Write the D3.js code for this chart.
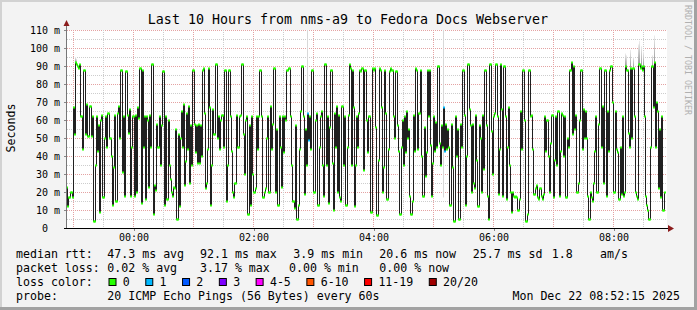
<!DOCTYPE html>
<html>
<head>
<meta charset="utf-8">
<script src="https://cdn.jsdelivr.net/npm/d3@7/dist/d3.min.js"></script>
<style>
body { margin: 0; background: #f3f3f3; }
text { font-family: "DejaVu Sans Mono", monospace; fill: #000; }
</style>
</head>
<body>
<div class="graph"></div>
<script>
// smokeping style latency graph, one median value (ms) per minute
var width = 697;
var height = 310;

var rttA = [23,12,17,17,20,20,17, 67,52,92,91,90,89,91, 62,62,44,88,88,52, 69,51,51,68,68,51,
  62,4,4,35,62,43,57,9,60, 63,17,17,50,62, 45,64,64,50,50,40, 13,34,63,15,15,64, 68,50,88,88,31,62,18,
  87,87,63,53,66, 18,45,62,62,18,63,20, 67,61,89,89,14,88,45,62,16,62, 60,23,63,45,91,91,8,24,21,
  58,45,45,62,35,57,87,87,13, 62,16,16,60,35,27,20,18,23,22, 55,5,5,52,12,50,65,45,69,24,37,64,44,68,25,
  57,35,88,88,58, 42,57,36,58,36,57,40, 88,89,64,22,25,44,89,67,13,35,66,52,52];
var rttB = [91,91,50, 62,44,60,63,63,45, 88,88,15,35,88, 88,62,43, 20,17,25,25, 63,45,45,62,63,
  91,91,52,30,60, 62,8,8,57,13, 62,30,20,20,22, 62,44,62,88,88, 62,17,17,20,22, 50,62,20,20,
  68,44,58,89,89,20, 55,13,13,62,45,23, 62,42,62,60, 88,88,89,89, 62,35,15,15,11,57, 5,5,13,44,
  65,90,90,62,19, 55,35,64,49,62,44, 88,88,20,20, 60,64,13,13,45,62, 65,35,18,91,91,35,
  62,14,56,88,88,36, 10,64,45,68,20,63, 17,15,68,68,35, 62,13,13,45,63, 91,89,35,88,67,12,
  35,62,45,64, 88,87,89,89,32,88];
var rttC = [88,60,42,62,62, 9,9, 89,88,89,56, 7,7,38, 89,88,67,20, 34,88,64,16,16,44, 87,89,88,88,
  62,50,87,87, 57,43,8,8, 45,60,35,62,42, 65,50,55, 18,8,8,15, 63,43, 89,88,44,64,64,
  88,40,18,18,56,29,42, 88,62,88,46,18,36, 62,43,59,45,90,90,47, 35,57,45,67,43,58,44, 55,45,13,13,
  58,34,4,4, 62,40,55,5,5,58, 45,88,88,63,13,40, 91,91,66,57,20,58,25,22, 63,38,12,12,57,50,20,
  63,33,88,88,57,18,5, 91,91,54,30,62,64, 91,91,62,19,44,91,66, 18,90,90,62,16,45,67,35,
  20,9,20,18,17];
var rttD = [18,17,10,10,16, 65,44,88,88,60, 4,4,8, 88,88,62, 63,44,19,19,22,24, 17,16,22,22,18,16,19,
  62,43,60,60,40, 20,47,63,63,17,38, 62,35,65,65,18,43,64, 63,40,62,17,17,50,45,
  88,88,92,52,90,55, 63,20,20,25,60, 88,88,44, 66,50,65,50, 18,5,5,20,17,15, 25,43,62,20,20,58,
  89,89,45,68,25, 88,88,18, 65,43,88,90,90, 70,20,20,65,44,42, 16,16,45,19,62,18,20,
  90,88,88,53,45,89,50,89,89,62, 20,18,16,91,91,89,90,88, 90,62,18,13,10,5,5, 45,90,90,67,92,45,70,65,
  22,55,17,62,10,10,20];

// minutes (from graph start) with 1 of 20 pings lost
var lossOne = [241, 242, 377, 378];
// smoke (spread of the 20 pings) where it shows above the median
var smokeAt = [9, 10, 241, 377, 559, 560, 564, 567, 572, 573, 575, 577, 586, 588];
var smokeLo = [92, 91, 64, 17, 90, 88, 89, 89, 91, 91, 90, 90, 90, 92];
var smokeHi = [95, 94, 112, 112, 97, 96, 99, 95, 102, 104, 101, 98, 96, 107];

var yTicks = [0, 10, 20, 30, 40, 50, 60, 70, 80, 90, 100, 110];
var xLabels = ["00:00", "02:00", "04:00", "06:00", "08:00"];
var lossNames = ["0", "1", "2", "3", "4-5", "6-10", "11-19", "20/20"];
var lossColors = ["#26ff00", "#00b8ff", "#0059ff", "#7e00ff", "#ff00ff", "#ff5500", "#ff0000", "#a00000"];
var rttStats = ["47.3 ms avg", "92.1 ms max", "3.9 ms min", "20.6 ms now", "25.7 ms sd", "1.8", "am/s"];
var lossStats = ["0.02 % avg", "3.17 % max", "0.00 % min", "0.00 % now"];
var probeText = "20 ICMP Echo Pings (56 Bytes) every 60s";
var stampText = "Mon Dec 22 08:52:15 2025";

var rtt = rttA.concat(rttB, rttC, rttD);

var endTime = new Date(Date.UTC(2025, 11, 22, 8, 53, 30));
var startTime = new Date(endTime.getTime() - 10 * 3600 * 1000);
var minute = function(i){ return new Date(startTime.getTime() + i * 60000); };

var x = d3.scaleUtc().domain([startTime, endTime]).range([67, 667]);
var y = d3.scaleLinear().domain([0, 110]).range([228, 30]);

var svg = d3.select('.graph').append("svg").attr("width", width).attr("height", height);

// frame
svg.append("rect").attr("width", width).attr("height", height).style("fill", "#f3f3f3");
svg.append("rect").attr("x", 0).attr("y", 0).attr("width", width).attr("height", 2).style("fill", "#d2d2d2");
svg.append("rect").attr("x", 0).attr("y", 0).attr("width", 2).attr("height", height).style("fill", "#d2d2d2");
svg.append("rect").attr("x", 0).attr("y", height - 3).attr("width", width).attr("height", 3).style("fill", "#a2a2a2");
svg.append("rect").attr("x", width - 3).attr("y", 0).attr("width", 3).attr("height", height).style("fill", "#a2a2a2");

// canvas
svg.append("rect").attr("x", 67).attr("y", 30).attr("width", 600).attr("height", 198).style("fill", "#fff");

// grid
var grid = svg.append("g").attr("shape-rendering", "crispEdges").style("stroke-dasharray", "1,1");
d3.range(5, 110, 5).forEach(function(v){
  var major = v % 10 === 0;
  grid.append("line").attr("x1", 67).attr("x2", 667).attr("y1", Math.round(y(v)) + 0.5).attr("y2", Math.round(y(v)) + 0.5)
    .style("stroke", major ? "#e4a2a2" : "#cdcdcd");
});
grid.append("line").attr("x1", 67).attr("x2", 667).attr("y1", 30.5).attr("y2", 30.5).style("stroke", "#e4a2a2");
x.ticks(d3.utcMinute.every(30)).forEach(function(t){
  var major = t.getUTCMinutes() === 0;
  grid.append("line").attr("x1", Math.floor(x(t)) + 0.5).attr("x2", Math.floor(x(t)) + 0.5).attr("y1", 30).attr("y2", 228)
    .style("stroke", major ? "#e4a2a2" : "#cdcdcd");
});

// smoke
var defs = svg.append("defs");
var grad = defs.append("linearGradient").attr("id", "smoke").attr("x1", 0).attr("y1", 1).attr("x2", 0).attr("y2", 0);
grad.append("stop").attr("offset", "0%").style("stop-color", "#999");
grad.append("stop").attr("offset", "100%").style("stop-color", "#eee");
smokeAt.forEach(function(i, k){
  var top = y(Math.min(smokeHi[k], 110));
  svg.append("rect").attr("x", Math.round(x(minute(i))) - 1).attr("width", 1)
    .attr("y", top).attr("height", y(smokeLo[k]) - top)
    .style("fill", smokeHi[k] >= 110 ? "#d8d8d8" : "url(#smoke)");
});

// median line
var line = d3.line().curve(d3.curveStep)
  .x(function(d, i){ return x(minute(i)); }).y(function(d){ return Math.round(y(d)) + 0.5; });
svg.append("path").datum(rtt).attr("d", line).attr("shape-rendering", "crispEdges")
  .style("fill", "none").style("stroke", "#202020").style("stroke-width", 1);

// loss colour marks
svg.append("g").selectAll("rect").data(rtt).enter().append("rect")
  .attr("x", function(d, i){ return Math.round(x(minute(i))) - 1; })
  .attr("y", function(d){ return Math.round(y(d)) - 0.5; })
  .attr("width", 2).attr("height", 2)
  .style("fill", function(d, i){ return lossOne.indexOf(i) >= 0 ? lossColors[1] : lossColors[0]; });

// axes
var yAxis = svg.append("g").attr("transform", "translate(67,0)")
  .call(d3.axisLeft(y).tickValues(yTicks).tickSize(3).tickPadding(4)
    .tickFormat(function(d){ return d === 0 ? "0" : d + " m"; }));
yAxis.select(".domain").remove();
yAxis.selectAll("line").style("stroke", "#888").attr("shape-rendering", "crispEdges");
yAxis.selectAll("text").style("font-size", "10px").style("font-family", "DejaVu Sans Mono").attr("dy", "0.35em")
  .filter(function(d){ return d === 0; }).attr("x", -19);

var labelDates = xLabels.map(function(s){
  var h = +s.slice(0, 2);
  return new Date(Date.UTC(2025, 11, h < 12 ? 22 : 21, h, 0));
});
var xAxis = svg.append("g").attr("transform", "translate(0,228)")
  .call(d3.axisBottom(x).tickValues(labelDates).tickSize(3).tickPadding(3)
    .tickFormat(function(d, i){ return xLabels[i]; }));
xAxis.select(".domain").remove();
xAxis.selectAll("line").style("stroke", "#888").attr("shape-rendering", "crispEdges");
xAxis.selectAll("text").style("font-size", "10px").style("font-family", "DejaVu Sans Mono");

svg.append("line").attr("x1", 66.5).attr("x2", 66.5).attr("y1", 228).attr("y2", 24).style("stroke", "#777");
svg.append("line").attr("x1", 64).attr("x2", 670).attr("y1", 228.5).attr("y2", 228.5).style("stroke", "#000");
svg.append("path").attr("d", "M63.5,26 L66.5,20 L69.5,26 Z").style("fill", "#8b1c1c");
svg.append("path").attr("d", "M668,225 L674,228.5 L668,232 Z").style("fill", "#8b1c1c");

// titles
svg.append("text").attr("x", 348).attr("y", 24).attr("text-anchor", "middle").style("font-size", "13.3px")
  .text("Last 10 Hours from nms-a9 to Fedora Docs Webserver");
svg.append("text").attr("transform", "translate(15,128) rotate(-90)").attr("text-anchor", "middle").style("font-size", "11.6px")
  .text("Seconds");
svg.append("text").attr("transform", "translate(685,5) rotate(90)").style("font-size", "8.3px").style("fill", "#b0b0b0")
  .text("RRDTOOL / TOBI OETIKER");

// legend
var legend = svg.append("g").style("font-size", "11.6px");
var rttCols = [107.3, 200, 293.3, 379.3, 472.7, 551.7, 600];
var lossCols = [107.3, 200, 289, 379.3];
legend.append("text").attr("x", 16).attr("y", 257.5).text("median rtt:");
rttStats.forEach(function(s, i){ legend.append("text").attr("x", rttCols[i]).attr("y", 257.5).text(s); });
legend.append("text").attr("x", 16).attr("y", 271.5).text("packet loss:");
lossStats.forEach(function(s, i){ legend.append("text").attr("x", lossCols[i]).attr("y", 271.5).text(s); });
legend.append("text").attr("x", 16).attr("y", 285.5).text("loss color:");
var bx = 108.5;
lossNames.forEach(function(s, i){
  legend.append("rect").attr("x", bx + 0.5).attr("y", 278.5).attr("width", 7).attr("height", 7)
    .style("fill", lossColors[i]).style("stroke", "#000");
  legend.append("text").attr("x", bx + 14.3).attr("y", 285.5).text(s);
  bx = bx + 14.3 + s.length * 6.98 + 15.5;
});
legend.append("text").attr("x", 16).attr("y", 299.5).text("probe:");
legend.append("text").attr("x", 107.3).attr("y", 299.5).text(probeText);
legend.append("text").attr("x", 680).attr("y", 299.5).attr("text-anchor", "end").text(stampText);
</script>
</body>
</html>
